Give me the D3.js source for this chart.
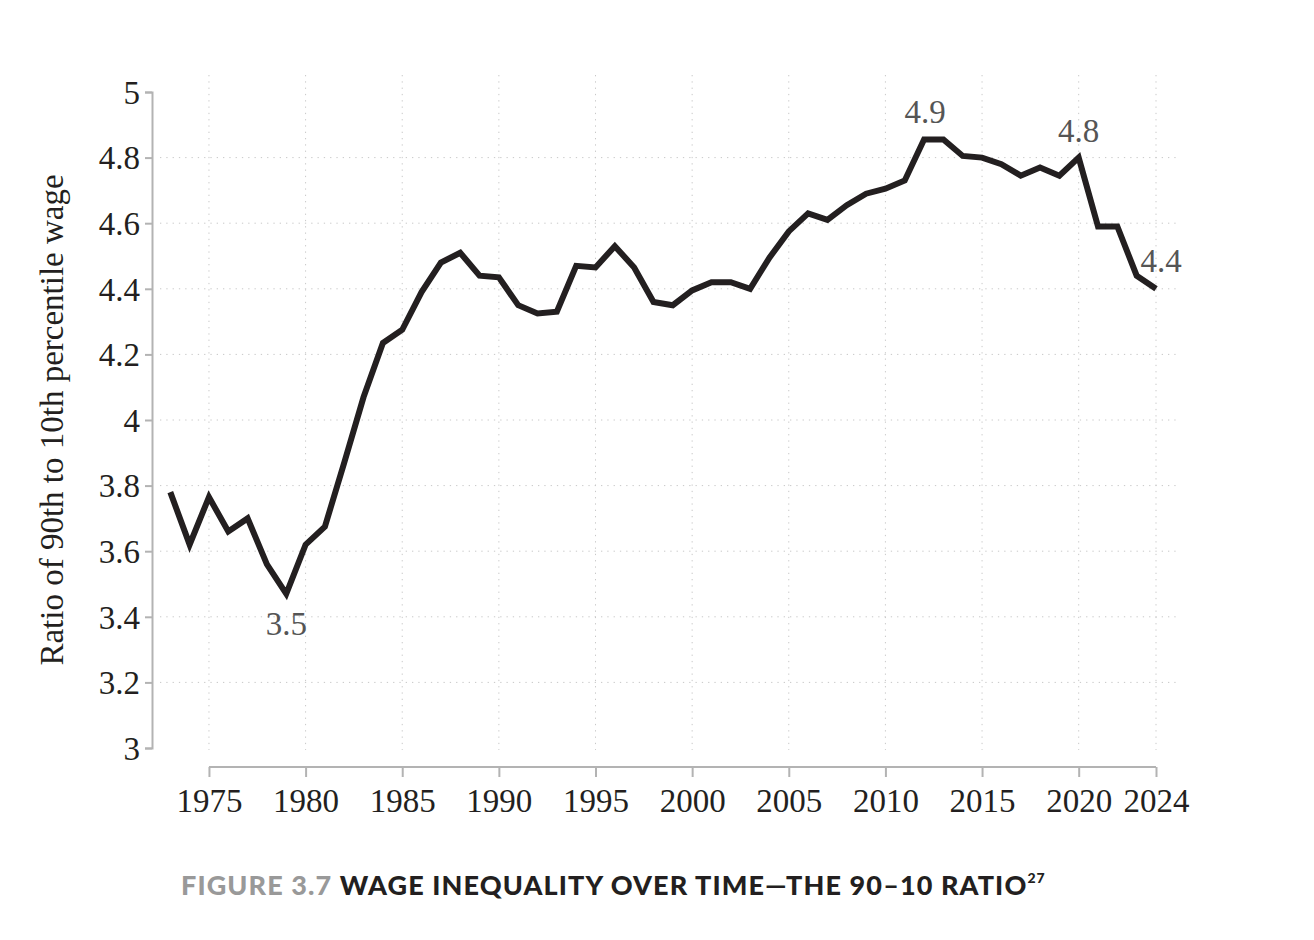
<!DOCTYPE html>
<html>
<head>
<meta charset="utf-8">
<script src="https://cdn.jsdelivr.net/npm/d3@7"></script>
<style>
  body { margin: 0; background: #fff; }
  svg { display: block; }
  .serif { font-family: "Liberation Serif", "Times New Roman", serif; }
</style>
</head>
<body>
<div id="chart"></div>
<script>
const years = d3.range(1973, 2025)
const ratio = [
  3.78, 3.62, 3.765, 3.66, 3.70, 3.56, 3.47, 3.62, 3.675, 3.87,
  4.07, 4.235, 4.275, 4.39, 4.48, 4.51, 4.44, 4.435, 4.35, 4.325,
  4.33, 4.47, 4.465, 4.53, 4.465, 4.36, 4.35, 4.395, 4.42, 4.42,
  4.40, 4.495, 4.575, 4.63, 4.61, 4.655, 4.69, 4.705, 4.73, 4.855,
  4.855, 4.805, 4.80, 4.78, 4.745, 4.77, 4.745, 4.80, 4.59, 4.59,
  4.44, 4.40
]
const xTicks = [1975, 1980, 1985, 1990, 1995, 2000, 2005, 2010, 2015, 2020, 2024]
const yTicks = [3, 3.2, 3.4, 3.6, 3.8, 4, 4.2, 4.4, 4.6, 4.8, 5]
const callouts = [
  {year: 1979, label: "3.5", dy: 30},
  {year: 2012, label: "4.9", dx: 1, dy: -28},
  {year: 2020, label: "4.8", dy: -27},
  {year: 2024, label: "4.4", dx: 5, dy: -28}
]

const width = 1314, height = 940
const svg = d3.select("#chart").append("svg")
  .attr("width", width).attr("height", height)

const x = d3.scaleLinear().domain([1973, 2024]).range([170.3, 1156])
const y = d3.scaleLinear().domain([3, 5]).range([748, 92])
const data = years.map((yr, i) => ({year: yr, value: ratio[i]}))

const axisColor = "#b3b3b3"
const fs = 33

// grid
svg.append("g").selectAll("line").data(xTicks).join("line")
  .attr("x1", d => x(d)).attr("x2", d => x(d))
  .attr("y1", 75).attr("y2", 750)
  .attr("stroke", "#c8c8c8").attr("stroke-width", 1)
  .attr("stroke-dasharray", "1.3,5")
svg.append("g").selectAll("line").data(yTicks.slice(1, -1)).join("line")
  .attr("x1", 160).attr("x2", 1176)
  .attr("y1", d => y(d)).attr("y2", d => y(d))
  .attr("stroke", "#c8c8c8").attr("stroke-width", 1)
  .attr("stroke-dasharray", "1.3,5")

// y axis
const gy = svg.append("g")
  .attr("transform", "translate(152,0)")
  .call(d3.axisLeft(y).tickValues(yTicks).tickSize(7).tickSizeOuter(7)
    .tickFormat(d3.format("~g")).tickPadding(5))
gy.attr("font-family", null).attr("font-size", null).classed("serif", true)
gy.select(".domain").attr("stroke", axisColor).attr("stroke-width", 2)
gy.selectAll(".tick line").attr("stroke", axisColor).attr("stroke-width", 2)
gy.selectAll(".tick text").style("font-size", fs + "px")
  .attr("fill", "#231f20").attr("dy", "0.34em")

// x axis
const gx = svg.append("g")
  .attr("transform", "translate(0,767)")
  .call(d3.axisBottom(x).tickValues(xTicks).tickSize(10).tickFormat(d3.format("d")).tickPadding(8))
gx.attr("font-family", null).attr("font-size", null).classed("serif", true)
gx.select(".domain").remove()
gx.append("line")
  .attr("x1", x(1975)).attr("x2", x(2024))
  .attr("stroke", axisColor).attr("stroke-width", 2)
gx.selectAll(".tick line").attr("stroke", axisColor).attr("stroke-width", 2)
gx.selectAll(".tick text").style("font-size", fs + "px")
  .attr("fill", "#231f20").attr("dy", "0.82em")

// y label
svg.append("text").attr("class", "serif")
  .attr("transform", "translate(63,420) rotate(-90)")
  .attr("text-anchor", "middle")
  .style("font-size", fs + "px")
  .attr("fill", "#231f20")
  .text("Ratio of 90th to 10th percentile wage")

// line
svg.append("path").datum(data)
  .attr("fill", "none").attr("stroke", "#231f20")
  .attr("stroke-width", 6).attr("stroke-linejoin", "miter")
  .attr("d", d3.line().x(d => x(d.year)).y(d => y(d.value)))

// callouts
svg.append("g").attr("class", "serif").selectAll("text").data(callouts).join("text")
  .attr("x", d => x(d.year) + (d.dx || 0))
  .attr("y", d => y(ratio[years.indexOf(d.year)]) + d.dy)
  .attr("text-anchor", "middle").attr("dy", "0.34em")
  .style("font-size", fs + "px")
  .attr("fill", "#555")
  .text(d => d.label)

// caption
const cap = svg.append("text")
  .attr("x", 181).attr("y", 895)
  .style("font-family", "Lato, 'Open Sans', sans-serif")
  .attr("font-weight", 900).style("font-size", "27px")
  .attr("letter-spacing", 1.1)
cap.append("tspan").attr("fill", "#999").text("FIGURE 3.7 ")
cap.append("tspan").attr("fill", "#231f20").text("WAGE INEQUALITY OVER TIME\u2014THE 90\u201310 RATIO")
cap.append("tspan").attr("fill", "#231f20").style("font-size", "14px").attr("dy", -12).text("27")
</script>
</body>
</html>
